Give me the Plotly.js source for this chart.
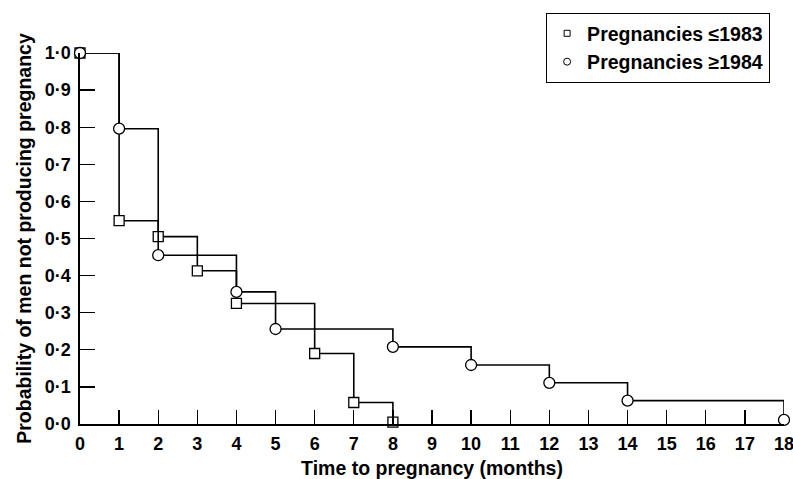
<!DOCTYPE html>
<html><head><meta charset="utf-8">
<script src="https://cdn.plot.ly/plotly-3.0.1.min.js"></script>
<style>html,body{margin:0;padding:0;background:#fff}</style>
</head><body>
<div id="chart" style="width:793px;height:479px"></div>
<script>
// Data
const early_months = [0, 1, 2, 3, 4, 6, 7, 8];
const early_prob   = [1.0, 0.548, 0.505, 0.413, 0.325, 0.19, 0.058, 0.005];
const late_months  = [0, 1, 2, 4, 5, 8, 10, 12, 14, 18];
const late_prob    = [1.0, 0.796, 0.455, 0.356, 0.256, 0.208, 0.159, 0.111, 0.063, 0.011];
const seriesNames  = ['Pregnancies \u22641983', 'Pregnancies \u22651984'];
const xTicks = [0,1,2,3,4,5,6,7,8,9,10,11,12,13,14,15,16,17,18];
const yTicks = [0,0.1,0.2,0.3,0.4,0.5,0.6,0.7,0.8,0.9,1.0];
const yTickText = ['0\u00b70','0\u00b71','0\u00b72','0\u00b73','0\u00b74','0\u00b75','0\u00b76','0\u00b77','0\u00b78','0\u00b79','1\u00b70'];

const fam = '"Liberation Sans", Arial, Helvetica, sans-serif';
const lineStyle = {color:'#000', width:1.6, shape:'hv'};

const traces = [
  {x: early_months, y: early_prob, mode:'lines+markers', line: lineStyle,
   marker:{symbol:'square', size:10, color:'#fff', line:{color:'#000', width:1.3}},
   showlegend:false, cliponaxis:false, hoverinfo:'skip'},
  {x: late_months, y: late_prob, mode:'lines+markers', line: lineStyle,
   marker:{symbol:'circle', size:11, color:'#fff', line:{color:'#000', width:1.3}},
   showlegend:false, cliponaxis:false, hoverinfo:'skip'},
  {x:[null], y:[null], mode:'markers', name: seriesNames[0],
   marker:{symbol:'square', size:6, color:'#fff', line:{color:'#000', width:1}}},
  {x:[null], y:[null], mode:'markers', name: seriesNames[1],
   marker:{symbol:'circle', size:7, color:'#fff', line:{color:'#000', width:1}}}
];

const layout = {
  width:793, height:479,
  margin:{l:80, r:9, t:53, b:55},
  paper_bgcolor:'#fff', plot_bgcolor:'#fff',
  font:{family:fam, color:'#000', size:18, weight:'bold'},
  showlegend:true,
  legend:{x:0.98, xanchor:'right', y:1.108, yanchor:'top',
          bordercolor:'#000', borderwidth:1.2, bgcolor:'#fff',
          font:{family:fam, size:19.5, weight:'bold', color:'#000'},
          itemwidth:30, tracegroupgap:0},
  xaxis:{range:[0,18], tickvals:xTicks, ticktext:xTicks.map(String),
         ticks:'inside', ticklen:14, tickwidth:1.3, tickcolor:'#000',
         showline:true, linecolor:'#000', linewidth:1.6, showgrid:false, zeroline:false,
         ticklabeloverflow:'allow', ticklabelstandoff:3,
         tickfont:{family:fam, size:18, weight:'bold'},
         title:{text:'Time to pregnancy (months)', standoff:8,
                font:{family:fam, size:19.5, weight:'bold'}}},
  yaxis:{range:[0,1], tickvals:yTicks, ticktext:yTickText,
         ticks:'inside', ticklen:15, tickwidth:1.3, tickcolor:'#000',
         showline:true, linecolor:'#000', linewidth:1.6, showgrid:false, zeroline:false,
         ticklabeloverflow:'allow', ticklabelstandoff:4,
         tickfont:{family:fam, size:18, weight:'bold'},
         title:{text:'Probability of men not producing pregnancy', standoff:8,
                font:{family:fam, size:19.5, weight:'bold'}}}
};

Plotly.newPlot('chart', traces, layout, {displayModeBar:false, staticPlot:true});
</script>
</body></html>
